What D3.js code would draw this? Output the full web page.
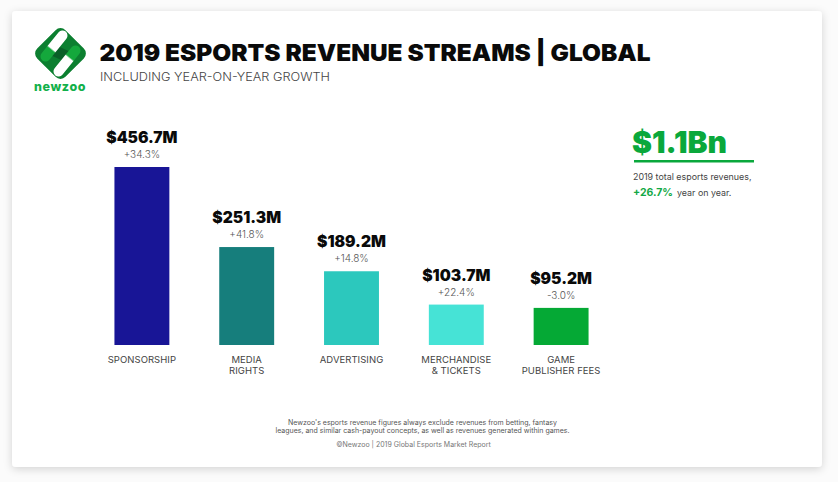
<!DOCTYPE html>
<html><head><meta charset="utf-8">
<script src="https://cdn.jsdelivr.net/npm/d3@7"></script>
<style>
html,body{margin:0;padding:0;background:#fbfbfb;overflow:hidden}
text{font-family:Inter,"Noto Sans",sans-serif}
</style></head><body>
<svg id="c" width="838" height="482"></svg>
<script>
const categories=["SPONSORSHIP","MEDIA|RIGHTS","ADVERTISING","MERCHANDISE|& TICKETS","GAME|PUBLISHER FEES"];
const revenues=[456.7,251.3,189.2,103.7,95.2];
const revenueLabels=["$456.7M","$251.3M","$189.2M","$103.7M","$95.2M"];
const growthLabels=["+34.3%","+41.8%","+14.8%","+22.4%","-3.0%"];
const barColors=["#181596","#167e7c","#2cc8bd","#46e3d6","#05a935"];
const titleText="2019 ESPORTS REVENUE STREAMS | GLOBAL";
const subtitleText="INCLUDING YEAR-ON-YEAR GROWTH";
const noteLines=["Newzoo's esports revenue figures always exclude revenues from betting, fantasy","leagues, and similar cash-payout concepts, as well as revenues generated within games."];
const creditText="©Newzoo | 2019 Global Esports Market Report";

const svg=d3.select("#c");
const defs=svg.append("defs");
const f=defs.append("filter").attr("id","sh").attr("x","-5%").attr("y","-5%").attr("width","110%").attr("height","112%");
f.append("feDropShadow").attr("dx",0).attr("dy",2).attr("stdDeviation",4).attr("flood-color","#000").attr("flood-opacity",0.16);
svg.append("rect").attr("x",12).attr("y",11).attr("width",810).attr("height",456).attr("rx",4).attr("fill","#fff").attr("filter","url(#sh)");

// logo
const logo=svg.append("g").attr("transform","translate(60.5,53.5)");
defs.append("clipPath").attr("id","lc").append("rect").attr("x",-20).attr("y",-20).attr("width",40).attr("height",40).attr("rx",7).attr("transform","rotate(45)");
const grad=(id,x1,y1,x2,y2,stops)=>{const g=defs.append("linearGradient").attr("id",id).attr("gradientUnits","userSpaceOnUse").attr("x1",x1).attr("y1",y1).attr("x2",x2).attr("y2",y2);stops.forEach(s=>g.append("stop").attr("offset",s[0]).attr("stop-color",s[1]));};
grad("b1",2,-18,-15,3,[[0,"#fff"],[0.62,"#fff"],[0.68,"#14a83c"],[1,"#14a83c"]]);
grad("b2",15,-3,-2,18,[[0,"#14a83c"],[0.32,"#14a83c"],[0.38,"#fff"],[1,"#fff"]]);
const lg=logo.append("g").attr("clip-path","url(#lc)");
lg.append("rect").attr("x",-30).attr("y",-30).attr("width",60).attr("height",60).attr("fill","#0c7f30");
lg.append("path").attr("d","M-4,-8 L9,-2 L4,8 L-9,2 Z").attr("fill","#0a5f28");
lg.append("line").attr("x1",2).attr("y1",-18).attr("x2",-15).attr("y2",3).attr("stroke","url(#b1)").attr("stroke-width",10).attr("stroke-linecap","round");
lg.append("line").attr("x1",15).attr("y1",-3).attr("x2",-2).attr("y2",18).attr("stroke","url(#b2)").attr("stroke-width",10).attr("stroke-linecap","round");
svg.append("text").attr("x",60).attr("y",90.5).attr("text-anchor","middle").attr("font-size",12.5).attr("font-weight",800).attr("fill","#12b04a").attr("letter-spacing",0.6).text("newzoo");

svg.append("text").attr("x",99.5).attr("y",61).attr("font-size",23.5).attr("font-weight",900).attr("fill","#0a0a0a").attr("textLength",551).attr("lengthAdjust","spacingAndGlyphs").text(titleText);
svg.append("text").attr("x",100).attr("y",81).attr("font-size",11.5).attr("font-weight",300).attr("fill","#444").attr("textLength",230).attr("lengthAdjust","spacingAndGlyphs").text(subtitleText);

const x=d3.scaleBand().domain(categories).range([89.5,613.5]).paddingInner(0.476).paddingOuter(0.238);
const y=d3.scaleLinear().domain([0,456.7]).range([345,167]);
const g=svg.append("g");
const cols=g.selectAll("g").data(categories).join("g");
cols.append("rect").attr("x",d=>x(d)).attr("width",x.bandwidth())
 .attr("y",(d,i)=>y(revenues[i])).attr("height",(d,i)=>y(0)-y(revenues[i])).attr("fill",(d,i)=>barColors[i]);
const cx=d=>x(d)+x.bandwidth()/2;
cols.append("text").attr("x",cx).attr("y",(d,i)=>y(revenues[i])-24).attr("text-anchor","middle").attr("font-size",15.6).attr("font-weight",900).attr("fill","#0a0a0a").text((d,i)=>revenueLabels[i]);
cols.append("text").attr("x",cx).attr("y",(d,i)=>y(revenues[i])-9).attr("text-anchor","middle").attr("font-size",10).attr("font-weight",300).attr("fill","#555").text((d,i)=>growthLabels[i]);
cols.each(function(d){
  d.split("|").forEach((t,k)=>{
    d3.select(this).append("text").attr("x",cx(d)).attr("y",363+k*11).attr("text-anchor","middle").attr("font-size",9.5).attr("letter-spacing",0.05).attr("fill","#444").text(t);
  });
});

svg.append("text").attr("x",632).attr("y",153).attr("font-size",30).attr("font-weight",900).attr("fill","#0aa83c").text("$1.1Bn");
svg.append("rect").attr("x",634).attr("y",160).attr("width",120).attr("height",2.5).attr("fill","#0aa83c");
svg.append("text").attr("x",633).attr("y",180).attr("font-size",8.9).attr("fill","#444").text("2019 total esports revenues,");
const t2=svg.append("text").attr("x",633).attr("y",196).attr("font-size",8.9).attr("fill","#444");
t2.append("tspan").attr("font-size",10.5).attr("font-weight",700).attr("fill","#12a845").text("+26.7%");
t2.append("tspan").attr("dx",4).text("year on year.");

noteLines.forEach((t,i)=>svg.append("text").attr("x",422.5).attr("y",424.5+i*8.2).attr("text-anchor","middle").attr("font-size",7).attr("fill","#555").text(t));
svg.append("text").attr("x",413.5).attr("y",446.5).attr("text-anchor","middle").attr("font-size",7).attr("fill","#777").text(creditText);
</script></body></html>
